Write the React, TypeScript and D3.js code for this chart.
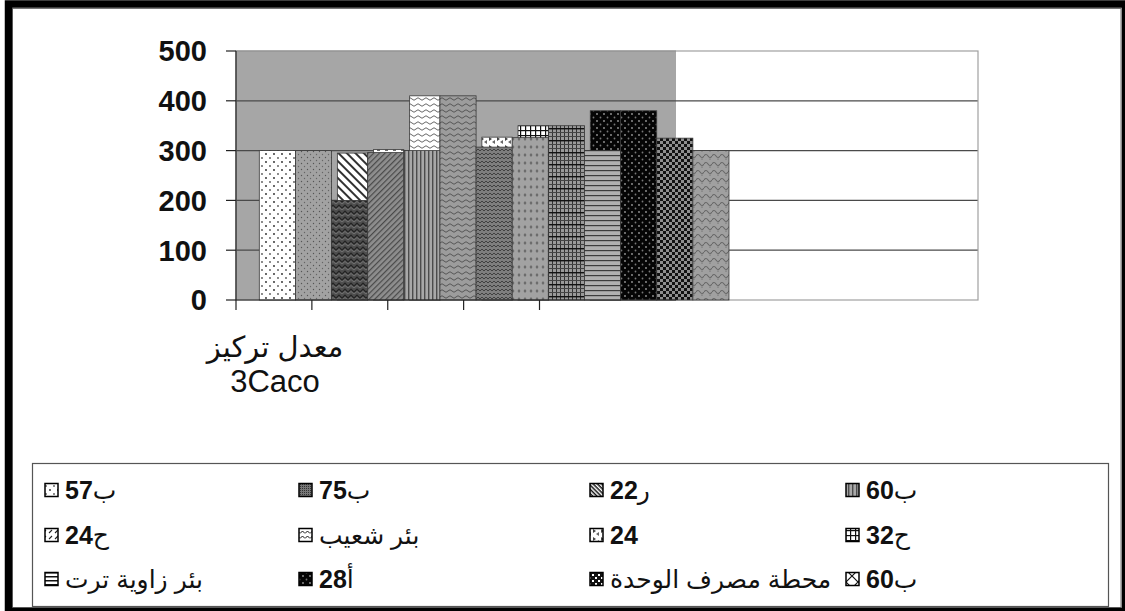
import React from "react";
import * as d3 from "d3";

// Legend entries (stations), row-major order, with the fill used by each key
const stationNames = [
  "ب57", "ب75", "ر22", "ب60",
  "ح24", "بئر شعيب", "24", "ح32",
  "بئر زاوية ترت", "أ28", "محطة مصرف الوحدة", "ب60",
];
const stationPatterns = [
  "dotsWhite", "dotsDark", "hatchDark", "vStripes",
  "dashDiag", "zigzagKey", "whiteMarks", "gridWhite",
  "hStripesKey", "blackDots", "checkerBig", "diamondX",
];

// Front row of columns (CaCO3 concentration)
const frontValues = [300, 300, 200, 296, 300, 410, 307, 326, 350, 300, 380, 325, 300];
const frontPatterns = [
  "dotsWhite", "dotsGray", "darkWeave", "diagGray", "vStripes", "waveGray",
  "zigzag", "diamondGray", "gridDense", "hStripes", "blackDots", "checker", "waveGray2",
];

// Columns showing behind the front row
const backSlots = [2, 3, 4, 6, 7, 9];
const backValues = [295, 302, 410, 327, 350, 380];
const backPatterns = ["hatchWide", "dashWhite", "waveWhite", "whiteMarks", "gridWhite", "blackDots"];

const yTickValues = [0, 100, 200, 300, 400, 500];
const categoryTicks = [0, 1, 2, 3, 4];
const axisTitle = ["معدل  تركيز", "3Caco"];

const W = 1125;
const H = 611;
const plot = { left: 236, right: 978, top: 51, bottom: 300, shadeRight: 676 };
const FONT = "'Liberation Sans', Arial, 'DejaVu Sans', sans-serif";

// split a label into digit / non-digit runs so the numerals can be set bold
function runs(label: string) {
  return label.match(/[0-9]+|[^0-9]+/g) || [label];
}

function Patterns() {
  return (
    <defs>
      <pattern id="dotsWhite" width="8" height="8" patternUnits="userSpaceOnUse">
        <rect width="8" height="8" fill="#fff" />
        <circle cx="2" cy="2" r="0.9" fill="#222" />
        <circle cx="6" cy="6" r="0.9" fill="#555" />
      </pattern>
      <pattern id="dotsGray" width="6" height="6" patternUnits="userSpaceOnUse">
        <rect width="6" height="6" fill="#a2a2a2" />
        <circle cx="1.5" cy="1.5" r="0.7" fill="#555" />
        <circle cx="4.5" cy="4.5" r="0.7" fill="#666" />
      </pattern>
      <pattern id="dotsDark" width="2" height="2" patternUnits="userSpaceOnUse">
        <rect width="2" height="2" fill="#777" />
        <rect width="1" height="1" fill="#333" />
      </pattern>
      <pattern id="darkWeave" width="6" height="6" patternUnits="userSpaceOnUse">
        <rect width="6" height="6" fill="#4e4e4e" />
        <path d="M0 4 L3 1 L6 4" fill="none" stroke="#222" strokeWidth="1.2" />
        <path d="M0 6 L3 3.5 L6 6" fill="none" stroke="#7a7a7a" strokeWidth="0.8" />
      </pattern>
      <pattern id="hatchWide" width="6" height="6" patternUnits="userSpaceOnUse" patternTransform="rotate(45)">
        <rect width="6" height="6" fill="#fff" />
        <rect width="6" height="2" fill="#333" />
      </pattern>
      <pattern id="hatchDark" width="3" height="3" patternUnits="userSpaceOnUse" patternTransform="rotate(45)">
        <rect width="3" height="3" fill="#fff" />
        <rect width="3" height="1.5" fill="#111" />
      </pattern>
      <pattern id="dashDiag" width="6" height="6" patternUnits="userSpaceOnUse">
        <rect width="6" height="6" fill="#fff" />
        <path d="M1 5 L4 2" stroke="#222" strokeWidth="1.1" />
      </pattern>
      <pattern id="diagGray" width="4" height="4" patternUnits="userSpaceOnUse" patternTransform="rotate(-45)">
        <rect width="4" height="4" fill="#8e8e8e" />
        <rect width="4" height="1.2" fill="#4a4a4a" />
      </pattern>
      <pattern id="dashWhite" width="8" height="4" patternUnits="userSpaceOnUse">
        <rect width="8" height="4" fill="#fff" />
        <rect x="1" y="1.5" width="3" height="1.2" fill="#333" />
      </pattern>
      <pattern id="vStripes" width="4" height="4" patternUnits="userSpaceOnUse">
        <rect width="4" height="4" fill="#a8a8a8" />
        <rect width="1.4" height="4" fill="#4c4c4c" />
      </pattern>
      <pattern id="waveWhite" width="8" height="6" patternUnits="userSpaceOnUse">
        <rect width="8" height="6" fill="#fff" />
        <path d="M0 3 Q2 0.5 4 3 T8 3" fill="none" stroke="#666" strokeWidth="1" />
      </pattern>
      <pattern id="waveGray" width="8" height="6" patternUnits="userSpaceOnUse">
        <rect width="8" height="6" fill="#9c9c9c" />
        <path d="M0 3 Q2 0.5 4 3 T8 3" fill="none" stroke="#555" strokeWidth="1" />
      </pattern>
      <pattern id="waveGray2" width="8" height="8" patternUnits="userSpaceOnUse">
        <rect width="8" height="8" fill="#a0a0a0" />
        <path d="M0 4 Q2 1 4 4 T8 4" fill="none" stroke="#666" strokeWidth="1.1" />
        <circle cx="6" cy="7" r="0.6" fill="#555" />
      </pattern>
      <pattern id="zigzag" width="4" height="4" patternUnits="userSpaceOnUse">
        <rect width="4" height="4" fill="#7e7e7e" />
        <path d="M0 3 L2 1 L4 3" fill="none" stroke="#3a3a3a" strokeWidth="0.9" />
      </pattern>
      <pattern id="zigzagKey" width="5" height="5" patternUnits="userSpaceOnUse">
        <rect width="5" height="5" fill="#fff" />
        <path d="M0 3.5 L2.5 1 L5 3.5" fill="none" stroke="#111" strokeWidth="1" />
      </pattern>
      <pattern id="whiteMarks" width="8" height="8" patternUnits="userSpaceOnUse">
        <rect width="8" height="8" fill="#fff" />
        <path d="M1 1 L4 3 L1 5 Z" fill="#444" />
        <path d="M7 4 L4 6 L7 8 Z" fill="#666" />
      </pattern>
      <pattern id="diamondGray" width="6" height="8" patternUnits="userSpaceOnUse">
        <rect width="6" height="8" fill="#a2a2a2" />
        <path d="M3 1 L4.5 3 L3 5 L1.5 3 Z" fill="#6a6a6a" />
      </pattern>
      <pattern id="gridWhite" width="5" height="5" patternUnits="userSpaceOnUse">
        <rect width="5" height="5" fill="#fff" />
        <rect width="5" height="1.2" fill="#111" />
        <rect width="1.2" height="5" fill="#111" />
      </pattern>
      <pattern id="gridDense" width="4" height="12" patternUnits="userSpaceOnUse">
        <rect width="4" height="12" fill="#9a9a9a" />
        <rect width="1" height="12" fill="#333" />
        <rect y="0" width="4" height="1" fill="#444" />
        <rect y="4" width="4" height="1" fill="#444" />
        <rect y="8" width="4" height="1.4" fill="#111" />
      </pattern>
      <pattern id="hStripes" width="4" height="5" patternUnits="userSpaceOnUse">
        <rect width="4" height="5" fill="#b0b0b0" />
        <rect width="4" height="1.2" fill="#3c3c3c" />
      </pattern>
      <pattern id="hStripesKey" width="4" height="4" patternUnits="userSpaceOnUse">
        <rect width="4" height="4" fill="#fff" />
        <rect width="4" height="1.5" fill="#111" />
      </pattern>
      <pattern id="blackDots" width="7" height="7" patternUnits="userSpaceOnUse">
        <rect width="7" height="7" fill="#050505" />
        <circle cx="2" cy="2" r="0.9" fill="#9a9a9a" />
        <circle cx="5.5" cy="5.5" r="0.9" fill="#777" />
      </pattern>
      <pattern id="checker" width="6" height="6" patternUnits="userSpaceOnUse">
        <rect width="6" height="6" fill="#8e8e8e" />
        <rect width="3" height="3" fill="#111" />
        <rect x="3" y="3" width="3" height="3" fill="#111" />
      </pattern>
      <pattern id="checkerBig" width="6" height="6" patternUnits="userSpaceOnUse">
        <rect width="6" height="6" fill="#111" />
        <rect x="1" y="1" width="2" height="2" fill="#fff" />
        <rect x="4" y="4" width="2" height="2" fill="#fff" />
      </pattern>
      <pattern id="diamondX" width="12" height="12" patternUnits="userSpaceOnUse">
        <rect width="12" height="12" fill="#fff" />
        <path d="M0 0 L12 12 M12 0 L0 12" stroke="#111" strokeWidth="1.2" />
      </pattern>
    </defs>
  );
}

export default function App() {
  const y = d3.scaleLinear().domain([0, 500]).range([plot.bottom, plot.top]);
  const x = d3
    .scaleBand<number>()
    .domain(d3.range(frontValues.length))
    .range([259.3, 729])
    .paddingInner(0);
  const xTick = d3.scaleLinear().domain([0, 4]).range([plot.left, 539.5]);
  const bw = x.bandwidth();
  const backInset = 5.8;

  const legendCols = [45, 299, 590, 846];
  const legendRows = [490, 535, 579];
  const keySize = 13;

  return (
    <svg
      width={W}
      height={H}
      viewBox={`0 0 ${W} ${H}`}
      style={{ position: "absolute", left: 0, top: 0, background: "#fff" }}
    >
      <Patterns />

      {/* chart frame */}
      <rect x={12.5} y={8.5} width={1108.5} height={599} fill="none" stroke="#777" strokeWidth={1} />
      <rect x={8.5} y={4} width={1117} height={607.5} fill="none" stroke="#000" strokeWidth={7.5} />

      {/* plot area */}
      <rect x={plot.left} y={plot.top} width={plot.shadeRight - plot.left} height={plot.bottom - plot.top} fill="#a6a6a6" />
      {yTickValues
        .filter((v) => v > 0 && v < 500)
        .map((v) => (
          <line key={v} x1={plot.left} x2={plot.right} y1={y(v)} y2={y(v)} stroke="#4a4a4a" strokeWidth={1.2} />
        ))}
      <line x1={plot.left} x2={plot.shadeRight} y1={y(500)} y2={y(500)} stroke="#777" strokeWidth={1} />
      <rect
        x={plot.left}
        y={plot.top}
        width={plot.right - plot.left}
        height={plot.bottom - plot.top}
        fill="none"
        stroke="#a0a0a0"
        strokeWidth={1.2}
      />

      {/* columns behind */}
      {backSlots.map((s, i) => (
        <rect
          key={`b${i}`}
          x={(x(s) as number) + backInset}
          y={y(backValues[i])}
          width={bw - backInset}
          height={y(0) - y(backValues[i])}
          fill={`url(#${backPatterns[i]})`}
          stroke="#3a3a3a"
          strokeWidth={0.8}
        />
      ))}

      {/* front columns */}
      {frontValues.map((v, i) => (
        <rect
          key={`f${i}`}
          x={x(i)}
          y={y(v)}
          width={bw}
          height={y(0) - y(v)}
          fill={`url(#${frontPatterns[i]})`}
          stroke="#3a3a3a"
          strokeWidth={0.8}
        />
      ))}

      {/* value axis */}
      <line x1={plot.left} x2={plot.left} y1={plot.top} y2={plot.bottom} stroke="#222" strokeWidth={1.2} />
      {yTickValues.map((v) => (
        <g key={v}>
          <line x1={226} x2={plot.left} y1={y(v)} y2={y(v)} stroke="#222" strokeWidth={1.2} />
          <text
            x={207}
            y={y(v)}
            dy="0.36em"
            textAnchor="end"
            fontFamily={FONT}
            fontWeight="bold"
            fontSize={29}
            fill="#111"
          >
            {v}
          </text>
        </g>
      ))}

      {/* category axis */}
      <line x1={plot.left} x2={plot.shadeRight} y1={plot.bottom} y2={plot.bottom} stroke="#222" strokeWidth={1.2} />
      {categoryTicks.map((t) => (
        <line key={t} x1={xTick(t)} x2={xTick(t)} y1={plot.bottom} y2={plot.bottom + 10} stroke="#222" strokeWidth={1.2} />
      ))}
      <text x={275} y={357} textAnchor="middle" fontFamily={FONT} fontSize={29} fill="#111">
        {axisTitle[0]}
      </text>
      <text x={275} y={392} textAnchor="middle" fontFamily={FONT} fontSize={31} fill="#111">
        {axisTitle[1]}
      </text>

      {/* legend */}
      <rect x={32.5} y={463.5} width={1076} height={143} fill="#fff" stroke="#555" strokeWidth={1.2} />
      {stationNames.map((name, i) => {
        const cx = legendCols[i % 4];
        const cy = legendRows[Math.floor(i / 4)];
        return (
          <g key={`l${i}`}>
            <rect
              x={cx}
              y={cy - keySize / 2}
              width={keySize}
              height={keySize}
              fill={`url(#${stationPatterns[i]})`}
              stroke="#000"
              strokeWidth={1.5}
            />
            <text
              x={cx + keySize + 7}
              y={cy}
              dy="0.36em"
              textAnchor="start"
              fontFamily={FONT}
              fontSize={25}
              fill="#111"
            >
              {runs(name).map((r, k) => (
                <tspan key={k} fontWeight={/[0-9]/.test(r) ? "bold" : "normal"}>
                  {r}
                </tspan>
              ))}
            </text>
          </g>
        );
      })}
    </svg>
  );
}
